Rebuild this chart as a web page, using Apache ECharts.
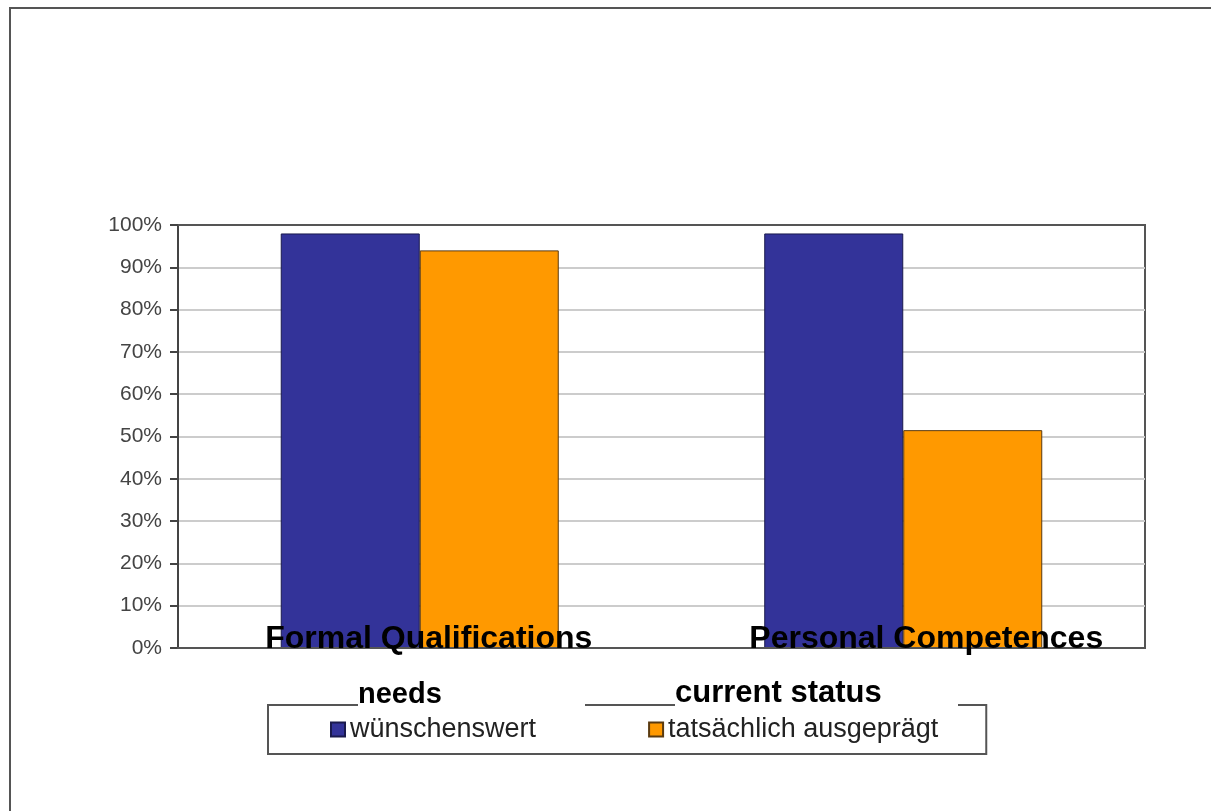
<!DOCTYPE html>
<html>
<head>
<meta charset="utf-8">
<script src="https://cdn.jsdelivr.net/npm/echarts@6/dist/echarts.min.js"></script>
<style>
  html, body { margin: 0; padding: 0; background: #fff; }
  #chart { width: 1211px; height: 811px; }
</style>
</head>
<body>
<div id="chart"></div>
<script>
var categories = ['Formal Qualifications', 'Personal Competences'];
var seriesNames = ['wünschenswert', 'tatsächlich ausgeprägt'];
var desired = [98, 98];
var actual = [94, 51.5];
var yTicks = [0, 10, 20, 30, 40, 50, 60, 70, 80, 90, 100];

var chart = echarts.init(document.getElementById('chart'));

var option = {
    backgroundColor: '#fff',
    animation: false,
    grid: {
        left: 178, right: 66, top: 225, bottom: 163,
        show: true, borderColor: '#555', borderWidth: 2
    },
    legend: {
        data: seriesNames,
        left: 268, top: 705,
        orient: 'horizontal',
        padding: [11, 48, 11, 62],
        itemGap: 112,
        itemWidth: 14, itemHeight: 14,
        itemTextGap: 6,
        borderColor: '#555', borderWidth: 2,
        icon: 'rect',
        textStyle: { fontFamily: 'Liberation Sans', fontSize: 27, color: '#222' }
    },
    xAxis: [{
        type: 'category',
        data: categories,
        axisLine: { lineStyle: { color: '#555', width: 2 } },
        axisTick: { show: false },
        axisLabel: {
            margin: -25,
            formatter: function (v, i) { return i === 1 ? '{p|' + v + '}' : '{q|' + v + '}'; },
            rich: {
                q: { fontFamily: 'Liberation Sans', fontWeight: 'bold', fontSize: 32, color: '#000', padding: [0, 0, 0, 18] },
                p: { fontFamily: 'Liberation Sans', fontWeight: 'bold', fontSize: 32, color: '#000', padding: [0, 0, 0, 46] }
            }
        },
        z: 10
    }, {
        type: 'category',
        position: 'top',
        data: categories,
        axisLine: { lineStyle: { color: '#555', width: 2 } },
        axisTick: { show: false },
        axisLabel: { show: false }
    }],
    yAxis: {
        type: 'value',
        min: 0, max: 100, interval: 10,
        axisLine: { show: true, lineStyle: { color: '#444', width: 2 } },
        axisTick: { show: true, length: 8, lineStyle: { color: '#444', width: 2 } },
        axisLabel: {
            margin: 16,
            fontFamily: 'Liberation Sans', fontSize: 21, color: '#444',
            formatter: function (v) { return yTicks.indexOf(v) >= 0 ? v + '%' : ''; }
        },
        splitLine: { lineStyle: { color: '#ccc', width: 2 } }
    },
    series: [
        {
            name: seriesNames[0], type: 'bar', data: desired,
            barGap: '0%', barCategoryGap: '42.5%',
            itemStyle: { color: '#333399', borderColor: '#1a1a4d', borderWidth: 1 }
        },
        {
            name: seriesNames[1], type: 'bar', data: actual,
            itemStyle: { color: '#ff9900', borderColor: '#5a3a10', borderWidth: 1 }
        }
    ],
    graphic: [
        { type: 'polyline', z: 100, shape: { points: [[10, 811], [10, 8], [1211, 8]] },
          style: { fill: 'none', stroke: '#555', lineWidth: 2 } },
        { type: 'rect', z: 100, shape: { x: 358, y: 699, width: 227, height: 12 }, style: { fill: '#fff' } },
        { type: 'rect', z: 100, shape: { x: 675, y: 699, width: 283, height: 12 }, style: { fill: '#fff' } },
        { type: 'text', z: 101, style: { text: 'needs', x: 358, y: 709, fill: '#000',
          font: 'bold 29px "Liberation Sans"', verticalAlign: 'bottom' } },
        { type: 'text', z: 101, style: { text: 'current status', x: 675, y: 709, fill: '#000',
          font: 'bold 31px "Liberation Sans"', verticalAlign: 'bottom' } }
    ]
};

chart.setOption(option);
</script>
</body>
</html>
